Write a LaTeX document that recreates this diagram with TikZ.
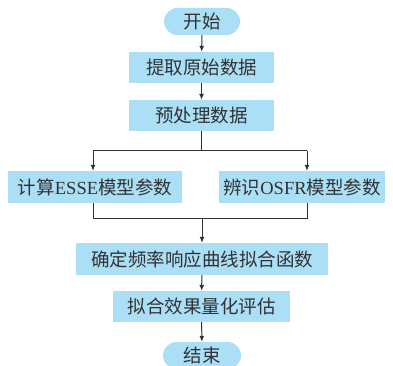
\documentclass[tikz,border=0pt]{standalone}
\usepackage{fontspec}
\setmainfont{Liberation Serif}
\newfontfamily\cjk{Noto Sans CJK SC}
\usetikzlibrary{arrows.meta,shapes.misc}
\definecolor{boxfill}{RGB}{170,223,246}
\definecolor{inkc}{RGB}{50,50,50}
\tikzset{
  stepbox/.style={rectangle, fill=boxfill, inner sep=0pt, text=inkc, font=\fontsize{18.5}{21}\selectfont\cjk, minimum height=31pt},
  termbox/.style={rounded rectangle, fill=boxfill, inner sep=0pt, text=inkc, font=\fontsize{18.5}{21}\selectfont\cjk, minimum height=27pt, minimum width=76pt},
  conn/.style={draw=inkc, line width=1pt},
  arr/.style={conn, -{Latex[length=6pt,width=5pt]}}
}
\begin{document}
\begin{tikzpicture}[x=1pt,y=-1pt]
\useasboundingbox (0,0) rectangle (393,366);
\node[termbox] (start) at (202,21.5) {开始};
\node[stepbox, minimum width=145pt] (b1) at (201.5,67.5) {提取原始数据};
\node[stepbox, minimum width=145pt] (b2) at (201.5,115.5) {预处理数据};
\node[stepbox, minimum width=174pt, minimum height=32pt] (L) at (95,187) {计算{\rmfamily ESSE}模型参数};
\node[stepbox, minimum width=166pt, minimum height=32pt] (R) at (302,187) {辨识{\rmfamily OSFR}模型参数};
\node[stepbox, minimum width=252pt, minimum height=32pt] (fitf) at (202,259) {确定频率响应曲线拟合函数};
\node[stepbox, minimum width=177pt] (eval) at (201.5,306.5) {拟合效果量化评估};
\node[termbox, minimum width=78pt] (end) at (202,355.5) {结束};
\coordinate (s1) at (201.5,151);
\coordinate (jl) at (93,151);
\coordinate (jr) at (307,151);
\coordinate (ml) at (93,218);
\coordinate (mr) at (307,218);
\coordinate (m) at (202,218);
\draw[arr] (start) -- (b1);
\draw[arr] (b1) -- (b2);
\draw[conn] (b2.south) -- (s1);
\draw[conn] (jl) -- (jr);
\draw[arr] (jl) -- (jl |- L.north);
\draw[arr] (jr) -- (jr |- R.north);
\draw[conn] (ml |- L.south) -- (ml) -- (mr) -- (mr |- R.south);
\draw[arr] (m) -- (fitf.north);
\draw[arr] (fitf) -- (eval);
\draw[arr] (eval) -- (end);
\end{tikzpicture}
\end{document}
